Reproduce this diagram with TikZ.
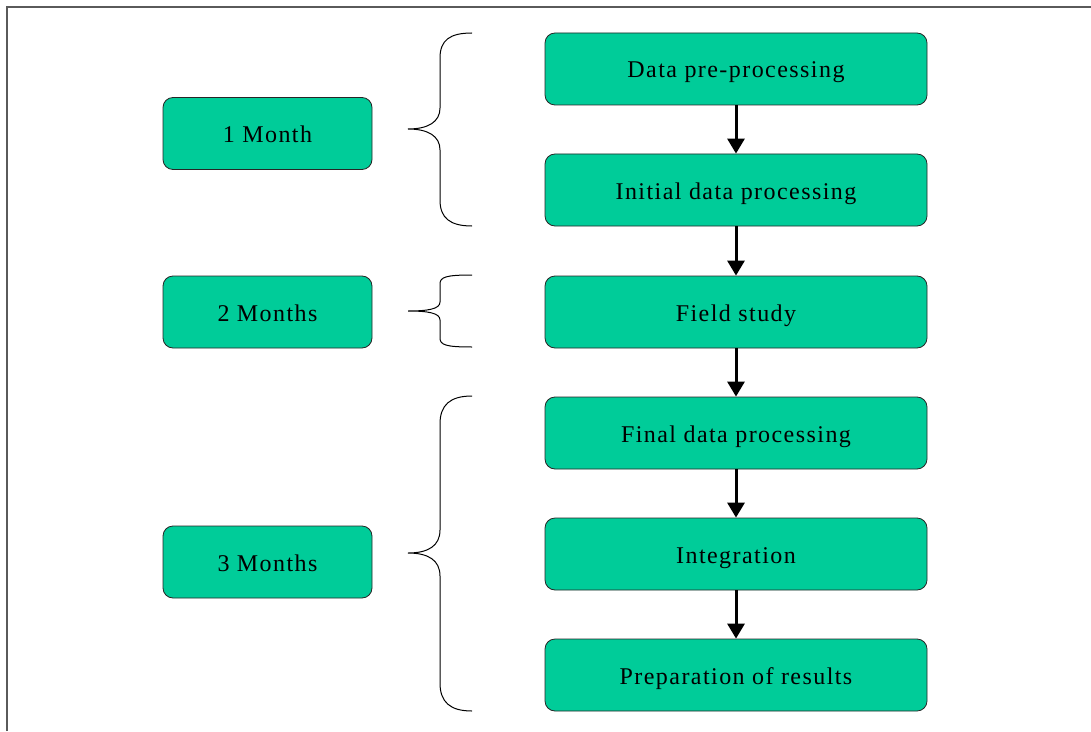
\documentclass[tikz,border=0pt]{standalone}
\usepackage{fontspec}
\setmainfont{Liberation Serif}
\usepackage{tikz}
\usetikzlibrary{arrows.meta, positioning}
\definecolor{stepfill}{RGB}{0, 204, 153}
\definecolor{framegray}{RGB}{90, 90, 90}

\begin{document}
\begin{tikzpicture}[
    x=0.75pt, y=-0.75pt,
    >={Triangle[width=12.75pt, length=11.25pt]},
    taskbox/.style={draw=black!85, fill=stepfill, rounded corners=7.5pt, line width=0.6pt,
      minimum width=286.5pt, minimum height=54pt, inner sep=0pt,
      text height=13.5pt, text depth=0pt,
      font=\fontsize{18}{20}\selectfont\addfontfeature{LetterSpace=6}},
    timebox/.style={taskbox, minimum width=156.75pt},
    flow/.style={->, line width=2.25pt},
    brace/.style={draw=black, line width=0.75pt}
  ]

  \useasboundingbox (0,0) rectangle (1091,731);

  % Frame
  \draw[framegray, line width=1.2pt] (7,731) -- (7,7) -- (1091,7);

  % Tasks
  \node[taskbox] (pre)   at (736, 69)  {Data pre-processing};
  \node[taskbox] (init)  at (736, 190) {Initial data processing};
  \node[taskbox] (field) at (736, 312) {Field study};
  \node[taskbox] (final) at (736, 433) {Final data processing};
  \node[taskbox] (integ) at (736, 554) {Integration};
  \node[taskbox] (prep)  at (736, 675) {Preparation of results};

  \draw[flow] (pre) -- (init);
  \draw[flow] (init) -- (field);
  \draw[flow] (field) -- (final);
  \draw[flow] (final) -- (integ);
  \draw[flow] (integ) -- (prep);

  % Durations
  \node[timebox] (m1) at (267.5, 133.5) {1 Month};
  \node[timebox] (m2) at (267.5, 312)   {2 Months};
  \node[timebox] (m3) at (267.5, 562)   {3 Months};

  % Braces
  \draw[brace] (472,33) .. controls (450,33) and (440,40) .. (440,58) -- (440,108)
    .. controls (440,122) and (428,129) .. (408,129)
    .. controls (428,129) and (440,136) .. (440,150) -- (440,200)
    .. controls (440,218) and (450,226) .. (472,226);
  \draw[brace] (472,275) .. controls (446,275) and (440,277) .. (440,284) -- (440,302)
    .. controls (440,309) and (428,311) .. (408,311)
    .. controls (428,311) and (440,313) .. (440,320) -- (440,338)
    .. controls (440,345) and (446,347) .. (472,347);
  \draw[brace] (472,396) .. controls (450,396) and (440,405) .. (440,424) -- (440,530)
    .. controls (440,546) and (428,553) .. (408,553)
    .. controls (428,553) and (440,560) .. (440,576) -- (440,683)
    .. controls (440,702) and (450,711) .. (472,711);

\end{tikzpicture}
\end{document}
